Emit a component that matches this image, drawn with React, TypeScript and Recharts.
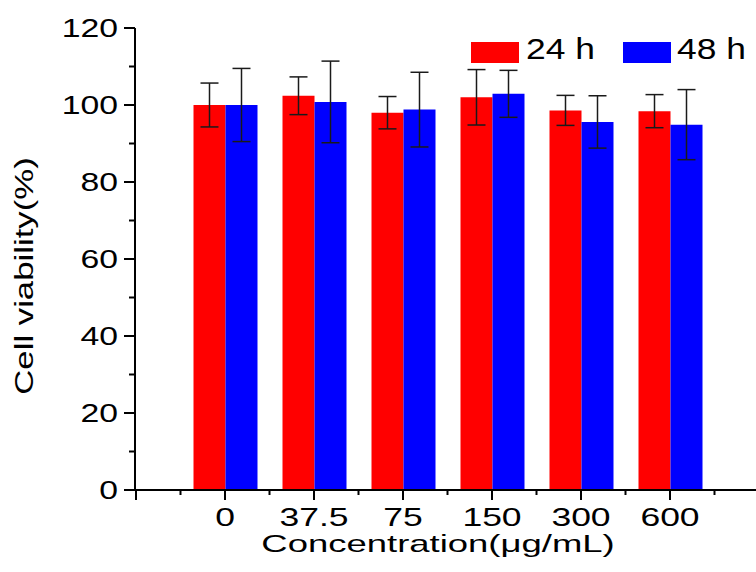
import React from 'react'
import { BarChart, Bar, XAxis, YAxis, ErrorBar } from 'recharts'

// concentration groups (µg/mL)
const concentrations = ['0', '37.5', '75', '150', '300', '600']

// cell viability (%) and error (±)
const viability24 = [100.0, 102.4, 98.0, 102.0, 98.6, 98.4]
const error24 = [5.7, 4.9, 4.2, 7.2, 3.9, 4.3]
const viability48 = [100.0, 100.8, 98.8, 102.9, 95.6, 94.9]
const error48 = [9.5, 10.6, 9.7, 6.1, 6.8, 9.1]

const seriesNames = ['24 h', '48 h']
const seriesColors = ['#ff0000', '#0000ff']

const yTicks = [0, 10, 20, 30, 40, 50, 60, 70, 80, 90, 100, 110, 120]

const data = concentrations.map((c, i) => ({
  conc: c,
  v24: viability24[i],
  e24: error24[i],
  v48: viability48[i],
  e48: error48[i],
}))

const FONT = 'Arial, "Liberation Sans", sans-serif'
const HALF_BAND = 44.5

function XTick(props: any) {
  const { x, y, payload, index } = props
  const last = index === concentrations.length - 1
  return (
    <g stroke="#000" strokeWidth={2}>
      {index === 0 && <line x1={x - 2 * HALF_BAND} x2={x - 2 * HALF_BAND} y1={y} y2={y + 10} />}
      <line x1={x - HALF_BAND} x2={x - HALF_BAND} y1={y} y2={y + 5} />
      <line x1={x} x2={x} y1={y} y2={y + 10} />
      {last && <line x1={x + HALF_BAND} x2={x + HALF_BAND} y1={y} y2={y + 5} />}
      <text
        transform={`translate(${x},${y + 36}) scale(1.42,1)`}
        textAnchor="middle"
        stroke="none"
        fill="#000"
        fontSize={25}
        fontFamily={FONT}
      >
        {payload.value}
      </text>
    </g>
  )
}

function YTick(props: any) {
  const { x, y, payload } = props
  const major = payload.value % 20 === 0
  return (
    <g stroke="#000" strokeWidth={2}>
      <line x1={x - (major ? 11 : 6)} x2={x} y1={y} y2={y} />
      {major && (
        <text
          transform={`translate(${x - 17},${y + 9}) scale(1.35,1)`}
          textAnchor="end"
          stroke="none"
          fill="#000"
          fontSize={25}
          fontFamily={FONT}
        >
          {payload.value}
        </text>
      )}
    </g>
  )
}

export default function App() {
  return (
    <div style={{ position: 'fixed', left: 0, top: 0, width: 756, height: 572, overflow: 'hidden', background: '#fff' }}>
      <BarChart
        width={770}
        height={572}
        data={data}
        margin={{ top: 28, right: 10, bottom: 0, left: 0 }}
        barSize={32}
        barGap={0}
      >
        <XAxis
          dataKey="conc"
          interval={0}
          height={82}
          padding={{ left: 45.5, right: 45.5 }}
          axisLine={{ stroke: '#000', strokeWidth: 2 }}
          tickLine={false}
          tickSize={0}
          tickMargin={0}
          tick={<XTick />}
        />
        <XAxis
          xAxisId="top"
          dataKey="conc"
          orientation="top"
          height={0}
          tick={false}
          tickLine={false}
          axisLine={{ stroke: '#000', strokeWidth: 2 }}
        />
        <YAxis
          type="number"
          domain={[0, 120]}
          ticks={yTicks}
          interval={0}
          width={135}
          axisLine={{ stroke: '#000', strokeWidth: 2 }}
          tickLine={false}
          tickSize={0}
          tickMargin={0}
          tick={<YTick />}
        />
        <Bar dataKey="v24" name={seriesNames[0]} fill={seriesColors[0]} isAnimationActive={false}>
          <ErrorBar dataKey="e24" width={9} stroke="#1a1a1a" strokeWidth={1.5} isAnimationActive={false} />
        </Bar>
        <Bar dataKey="v48" name={seriesNames[1]} fill={seriesColors[1]} isAnimationActive={false}>
          <ErrorBar dataKey="e48" width={9} stroke="#1a1a1a" strokeWidth={1.5} isAnimationActive={false} />
        </Bar>
      </BarChart>

      {/* axis titles and legend */}
      <svg width={756} height={572} style={{ position: 'absolute', left: 0, top: 0, pointerEvents: 'none' }}>
        <text
          transform="translate(33,276) rotate(-90) scale(1.39,1)"
          textAnchor="middle"
          fontSize={25}
          fontFamily={FONT}
          fill="#000"
        >
          Cell viability(%)
        </text>
        <text
          transform="translate(438,552) scale(1.52,1)"
          textAnchor="middle"
          fontSize={24}
          fontFamily={FONT}
          fill="#000"
        >
          Concentration(μg/mL)
        </text>
        {seriesNames.map((name, i) => (
          <g key={name}>
            <rect x={471 + i * 152} y={42} width={48} height={21} fill={seriesColors[i]} />
            <text
              transform={`translate(${526 + i * 151},59) scale(1.18,1)`}
              fontSize={30}
              fontFamily={FONT}
              fill="#000"
            >
              {name}
            </text>
          </g>
        ))}
      </svg>
    </div>
  )
}
